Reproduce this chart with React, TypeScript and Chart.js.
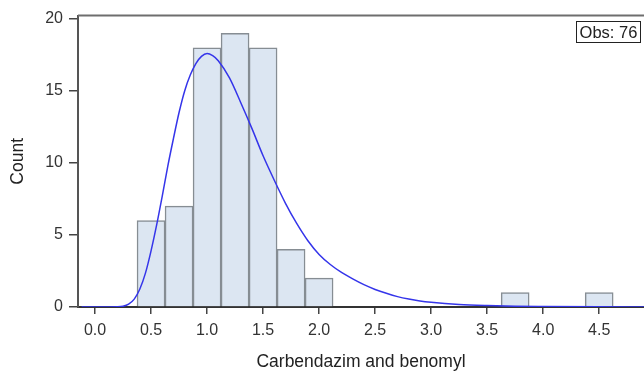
import React, { useEffect, useRef } from "react";
import { Chart, registerables } from "chart.js";

Chart.register(...registerables);

// Histogram bins (bin centres, width 0.25) and counts
const binCenters = [0.5, 0.75, 1.0, 1.25, 1.5, 1.75, 2.0, 3.75, 4.5];
const binCounts = [6, 7, 18, 19, 18, 4, 2, 1, 1];

// Fitted density curve (scaled to counts)
const curveX = [-0.12, 0, 0.1, 0.2, 0.25, 0.3, 0.35, 0.4, 0.45, 0.5, 0.55, 0.6, 0.65, 0.7, 0.75, 0.8, 0.85, 0.9, 0.95, 1.0, 1.05, 1.1, 1.2, 1.3, 1.4, 1.5, 1.6, 1.7, 1.8, 1.9, 2.0, 2.1, 2.2, 2.3, 2.4, 2.5, 2.6, 2.7, 2.8, 2.9, 3.0, 3.25, 3.5, 3.75, 4.0, 4.5, 4.9];
const curveY = [0, 0, 0, 0.01, 0.05, 0.2, 0.55, 1.25, 2.35, 3.9, 5.7, 7.7, 9.8, 11.7, 13.5, 15.0, 16.1, 16.9, 17.4, 17.6, 17.45, 17.1, 15.9, 14.2, 12.4, 10.5, 8.8, 7.2, 5.8, 4.6, 3.65, 2.95, 2.4, 1.95, 1.55, 1.22, 0.95, 0.72, 0.55, 0.42, 0.33, 0.18, 0.1, 0.05, 0.03, 0.01, 0.005];

const xTicks = [0, 0.5, 1, 1.5, 2, 2.5, 3, 3.5, 4, 4.5];
const yTicks = [0, 5, 10, 15, 20];

const xTitle = "Carbendazim and benomyl";
const yTitle = "Count";
const obsLabel = "Obs: 76";

const FONT = "'Liberation Sans', Arial, sans-serif";

export default function App() {
  const ref = useRef<HTMLCanvasElement | null>(null);

  useEffect(() => {
    if (!ref.current) return;
    const framePlugin = {
      id: "frame",
      afterDraw(chart: any) {
        const { ctx, chartArea } = chart;
        ctx.save();
        // top border
        ctx.strokeStyle = "#6e6e6e";
        ctx.lineWidth = 2;
        ctx.beginPath();
        ctx.moveTo(chartArea.left, chartArea.top);
        ctx.lineTo(chartArea.right, chartArea.top);
        ctx.stroke();
        // Obs box
        ctx.font = `16.5px ${FONT}`;
        const w = ctx.measureText(obsLabel).width;
        const bw = Math.round(w + 6);
        const bh = 21;
        const bx = Math.round(chartArea.right - 4 - bw) + 0.5;
        const by = Math.round(chartArea.top + 5) + 0.5;
        ctx.fillStyle = "#ffffff";
        ctx.fillRect(bx, by, bw, bh);
        ctx.strokeStyle = "#222";
        ctx.lineWidth = 1;
        ctx.strokeRect(bx, by, bw, bh);
        ctx.fillStyle = "#222";
        ctx.textAlign = "center";
        ctx.textBaseline = "middle";
        ctx.fillText(obsLabel, bx + bw / 2, by + bh / 2 + 1);
        ctx.restore();
      },
    };

    const chart = new Chart(ref.current, {
      type: "bar",
      data: {
        datasets: [
          {
            type: "line",
            data: curveX.map((x, i) => ({ x, y: curveY[i] })),
            borderColor: "#3535ea",
            borderWidth: 1.5,
            pointRadius: 0,
            cubicInterpolationMode: "monotone",
            fill: false,
            order: 0,
          } as any,
          {
            type: "bar",
            data: binCenters.map((x, i) => ({ x, y: binCounts[i] })),
            backgroundColor: "#dce6f2",
            borderColor: "#868d93",
            borderWidth: 1.5,
            barPercentage: 1,
            categoryPercentage: 1,
            order: 1,
          } as any,
        ],
      },
      options: {
        animation: false,
        responsive: false,
        layout: { padding: { top: 14, right: 0, left: 0, bottom: 0 } },
        plugins: { legend: { display: false }, tooltip: { enabled: false } },
        scales: {
          x: {
            type: "linear",
            offset: false,
            min: -0.152,
            max: 4.9,
            afterBuildTicks: (s: any) => {
              s.ticks = xTicks.map((v) => ({ value: v }));
            },
            afterFit: (s: any) => {
              s.height = 67;
            },
            grid: {
              offset: false,
              drawOnChartArea: false,
              drawTicks: true,
              tickLength: 7,
              color: "#444",
              lineWidth: 1.5,
            },
            border: { display: true, color: "#333", width: 2 },
            ticks: {
              padding: 7,
              color: "#333",
              font: { size: 16, family: FONT },
              maxRotation: 0,
              callback: (v: any) => Number(v).toFixed(1),
            },
            title: {
              display: true,
              text: xTitle,
              color: "#222",
              font: { size: 17.5, family: FONT },
              padding: { top: 0, bottom: 1 },
            },
          },
          y: {
            type: "linear",
            min: 0,
            max: 20.23,
            afterBuildTicks: (s: any) => {
              s.ticks = yTicks.map((v) => ({ value: v }));
            },
            afterFit: (s: any) => {
              s.width = 78;
            },
            grid: {
              drawOnChartArea: false,
              drawTicks: true,
              tickLength: 9,
              color: "#444",
              lineWidth: 1.5,
            },
            border: { display: true, color: "#555", width: 2 },
            ticks: {
              padding: 6,
              color: "#333",
              font: { size: 16, family: FONT },
            },
            title: {
              display: true,
              text: yTitle,
              color: "#222",
              font: { size: 17.5, family: FONT },
              padding: { top: 8, bottom: 0 },
            },
          },
        },
      } as any,
      plugins: [framePlugin],
    });
    return () => chart.destroy();
  }, []);

  return (
    <div style={{ position: "absolute", left: 0, top: 0, width: 644, height: 374, background: "#fff" }}>
      <canvas ref={ref} width={644} height={374} style={{ width: 644, height: 374, display: "block" }} />
    </div>
  );
}
